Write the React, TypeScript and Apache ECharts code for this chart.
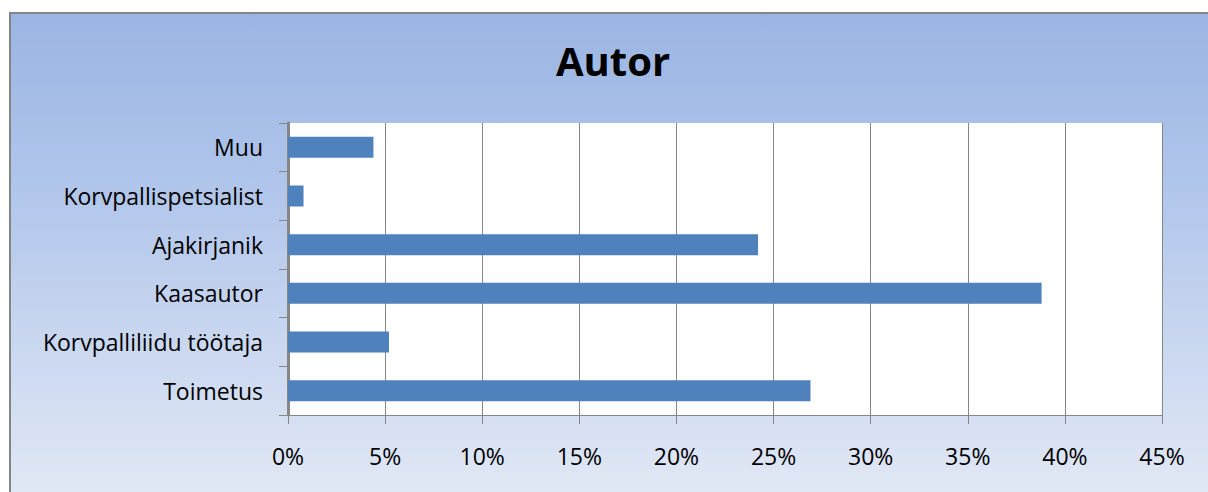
import React, { useEffect, useRef } from "react";
import * as echarts from "echarts";

const categories = ["Toimetus", "Korvpalliliidu töötaja", "Kaasautor", "Ajakirjanik", "Korvpallispetsialist", "Muu"];
const values = [26.9, 5.2, 38.8, 24.2, 0.8, 4.4];
const titleText = "Autor";

export default function App() {
  const ref = useRef<HTMLDivElement>(null);
  useEffect(() => {
    if (!ref.current) return;
    const chart = echarts.init(ref.current, null, { renderer: "svg" });
    const font = "'Open Sans', sans-serif";
    chart.setOption({
      animation: false,
      graphic: [
        {
          type: "rect",
          z: -10,
          silent: true,
          shape: { x: 10, y: 13, width: 1300, height: 600 },
          style: {
            fill: new echarts.graphic.LinearGradient(0, 0, 0, 1, [
              { offset: 0, color: "#9ab5e2" },
              { offset: 0.25, color: "#adc3ea" },
              { offset: 0.8, color: "#e1e8f5" },
              { offset: 1, color: "#e8eef8" },
            ]),
            stroke: "#858585",
            lineWidth: 2,
          },
        },
        {
          type: "rect",
          z: -5,
          silent: true,
          shape: { x: 288, y: 123, width: 874, height: 292 },
          style: { fill: "#ffffff" },
        },
      ],
      title: {
        text: titleText,
        left: 608,
        textAlign: "center",
        top: 35,
        textStyle: { fontFamily: font, fontWeight: "bold", fontSize: 40, color: "#000" },
      },
      grid: { left: 288, top: 123, right: 46, bottom: 77 },
      xAxis: {
        type: "value",
        min: 0,
        max: 45,
        interval: 5,
        axisLine: { show: true, lineStyle: { color: "#868686", width: 1 } },
        axisTick: { show: true, length: 9, lineStyle: { color: "#868686" } },
        splitLine: { show: true, lineStyle: { color: "#868686", width: 1 } },
        axisLabel: {
          formatter: (v: number) => v + "%",
          fontFamily: font,
          fontSize: 23,
          color: "#000",
          margin: 29,
        },
      },
      yAxis: {
        type: "category",
        data: categories,
        axisLine: { show: true, lineStyle: { color: "#868686", width: 3 } },
        axisTick: { show: true, length: 9, lineStyle: { color: "#868686", width: 1 } },
        axisLabel: { fontFamily: font, fontSize: 23, color: "#000", margin: 25 },
      },
      series: [
        {
          type: "bar",
          data: values,
          barWidth: 21,
          itemStyle: { color: "#4f81bd" },
        },
      ],
    });
    return () => chart.dispose();
  }, []);
  return (
    <div
      ref={ref}
      style={{ position: "absolute", left: 0, top: 0, width: 1208, height: 492, background: "#fff" }}
    />
  );
}
